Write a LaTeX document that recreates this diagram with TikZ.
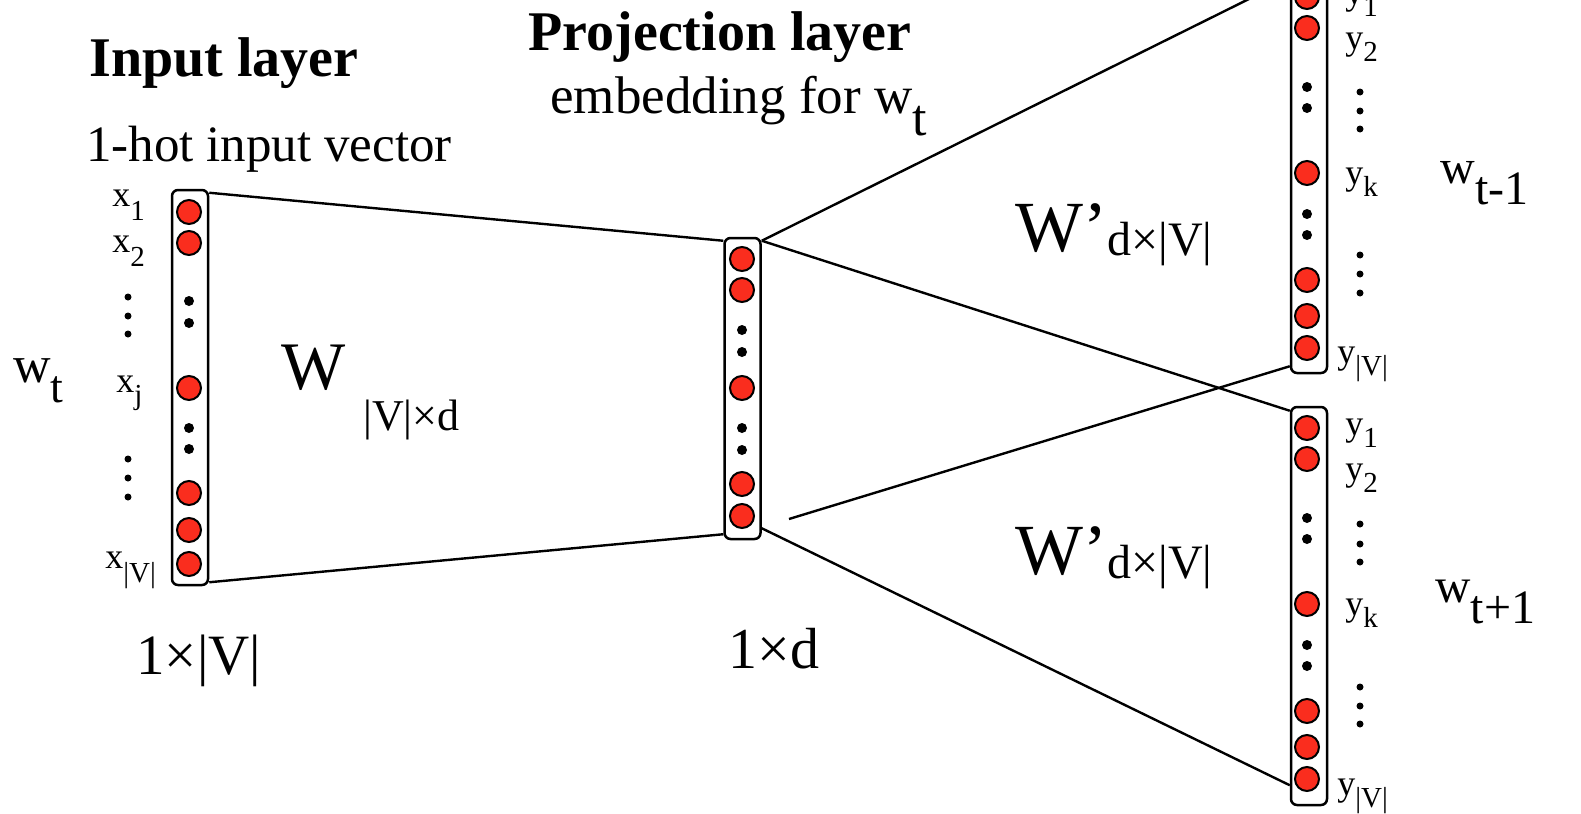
\documentclass[tikz,border=0pt]{standalone}
\usepackage{fontspec}
\setmainfont{Liberation Serif}
\usepackage{xcolor}
\usetikzlibrary{positioning}

\definecolor{neuronred}{RGB}{250,45,30}
% lowered subscript: drop, size, text
\newcommand{\lowsub}[3]{\raisebox{-#1}{\fontsize{#2}{#2}\selectfont #3}}

\begin{document}
\begin{tikzpicture}[
x=0.5pt, y=-0.5pt,
layer/.style={rectangle, draw, rounded corners=3pt, line width=1.25pt, minimum width=18pt, inner sep=0pt},
unit/.style={circle, draw, line width=1pt, fill=neuronred, minimum size=12pt, inner sep=0pt},
blob/.style={circle, fill=black, minimum size=5pt, inner sep=0pt},
vdot/.style={circle, fill=black, minimum size=3.5pt, inner sep=0pt},
conn/.style={line width=1.2pt},
heading/.style={font=\fontsize{28}{30}\selectfont\bfseries, anchor=base, inner sep=0pt},
caption/.style={font=\fontsize{25.5}{28}\selectfont, anchor=base west, inner sep=0pt},
lbl/.style={font=\fontsize{18}{18}\selectfont, anchor=base west, inner sep=0pt}
]
\useasboundingbox (0,0) rectangle (1581,814);
\clip (0,0) rectangle (1581,814);

% layer boxes
\node[layer, minimum height=197.5pt] (inlayer) at (190,387.5) {};
\node[layer, minimum height=150.5pt] (projlayer) at (742.5,388.5) {};
\node[layer, minimum height=198.5pt] (outprev) at (1309,174.5) {};
\node[layer, minimum height=199pt] (outnext) at (1309,606) {};

% input units
\node[unit] (x1) at (189,212) {};
\node[unit] (x2) at (189,243) {};
\node[blob] (xa) at (189,301) {};
\node[blob] (xb) at (189,323) {};
\node[unit] (xj) at (189,388) {};
\node[blob] (xc) at (189,428) {};
\node[blob] (xd) at (189,449) {};
\node[unit] (xm) at (189,493) {};
\node[unit] (xn) at (189,530) {};
\node[unit] (xv) at (189,564) {};

% projection units
\node[unit] (h1) at (742,259) {};
\node[unit] (h2) at (742,290) {};
\node[blob] (ha) at (742,330) {};
\node[blob] (hb) at (742,352) {};
\node[unit] (hj) at (742,388) {};
\node[blob] (hc) at (742,428) {};
\node[blob] (hd) at (742,450) {};
\node[unit] (hm) at (742,484) {};
\node[unit] (hd2) at (742,516) {};

% output units, w_{t-1}
\node[unit] (p1) at (1307,-3) {};
\node[unit] (p2) at (1307,28) {};
\node[blob] (pa) at (1307,87) {};
\node[blob] (pb) at (1307,108) {};
\node[unit] (pk) at (1307,173) {};
\node[blob] (pc) at (1307,214) {};
\node[blob] (pd) at (1307,235) {};
\node[unit] (pm) at (1307,280) {};
\node[unit] (pn) at (1307,316) {};
\node[unit] (pv) at (1307,348) {};

% output units, w_{t+1}
\node[unit] (n1) at (1307,428) {};
\node[unit] (n2) at (1307,459) {};
\node[blob] (na) at (1307,518) {};
\node[blob] (nb) at (1307,539) {};
\node[unit] (nk) at (1307,604) {};
\node[blob] (nc) at (1307,645) {};
\node[blob] (nd) at (1307,666) {};
\node[unit] (nm) at (1307,711) {};
\node[unit] (nn) at (1307,747) {};
\node[unit] (nv) at (1307,779) {};

% connectors
\coordinate (loose) at (789,519);
\draw[conn] ([yshift=-2pt]inlayer.north east) -- ([yshift=-2pt]projlayer.north west);
\draw[conn] ([yshift=2pt]inlayer.south east) -- ([yshift=3pt]projlayer.south west);
\draw[conn] ([yshift=-2pt]projlayer.north east) -- ([yshift=-2pt]outprev.north west);
\draw[conn] ([yshift=-2pt]projlayer.north east) -- ([yshift=-2.5pt]outnext.north west);
\draw[conn] (loose) -- ([yshift=4pt]outprev.south west);
\draw[conn] ([yshift=6pt]projlayer.south east) -- ([yshift=10.5pt]outnext.south west);

% input labels
\node[lbl] (lx1) at (112,206) {x\lowsub{7pt}{14.5}{1}};
\node[lbl] (lx2) at (112,252) {x\lowsub{7pt}{14.5}{2}};
\node[vdot] (lxa) at (128,297) {};
\node[vdot] (lxb) at (128,316) {};
\node[vdot] (lxc) at (128,334) {};
\node[lbl] (lxj) at (116,392) {x\lowsub{6pt}{14.5}{j}};
\node[vdot] (lxd) at (128,459) {};
\node[vdot] (lxe) at (128,478) {};
\node[vdot] (lxf) at (128,497) {};
\node[lbl] (lxv) at (105,568) {x\lowsub{7pt}{14.5}{|V|}};

% output labels, w_{t-1}
\node[lbl] (lp1) at (1345,4) {y\lowsub{6pt}{14.5}{1}};
\node[lbl] (lp2) at (1345,49) {y\lowsub{6pt}{14.5}{2}};
\node[vdot] (lpa) at (1360,92) {};
\node[vdot] (lpb) at (1360,111) {};
\node[vdot] (lpc) at (1360,129) {};
\node[lbl] (lpk) at (1345,184) {y\lowsub{6pt}{14.5}{k}};
\node[vdot] (lpd) at (1360,255) {};
\node[vdot] (lpe) at (1360,274) {};
\node[vdot] (lpf) at (1360,293) {};
\node[lbl] (lpv) at (1337,363) {y\lowsub{6pt}{14.5}{|V|}};

% output labels, w_{t+1}
\node[lbl] (ln1) at (1345,435) {y\lowsub{6pt}{14.5}{1}};
\node[lbl] (ln2) at (1345,480) {y\lowsub{6pt}{14.5}{2}};
\node[vdot] (lna) at (1360,524) {};
\node[vdot] (lnb) at (1360,544) {};
\node[vdot] (lnc) at (1360,562) {};
\node[lbl] (lnk) at (1345,615) {y\lowsub{6pt}{14.5}{k}};
\node[vdot] (lnd) at (1360,687) {};
\node[vdot] (lne) at (1360,706) {};
\node[vdot] (lnf) at (1360,724) {};
\node[lbl] (lnv) at (1337,795) {y\lowsub{6pt}{14.5}{|V|}};

% titles and words
\node[heading] (intitle) at (224,76) {Input layer};
\node[caption, anchor=base] (inhint) at (269,161) {1-hot input vector};
\node[heading] (projtitle) at (720,50) {Projection layer};
\node[caption, font=\fontsize{26.5}{28}\selectfont] (projhint) at (550,113) {embedding for w\lowsub{11pt}{26}{t}};
\node[caption, font=\fontsize{26}{28}\selectfont] (wcur) at (13,382) {w\lowsub{10pt}{23}{t}};
\node[caption, font=\fontsize{24}{26}\selectfont] (wprev) at (1440,183) {w\lowsub{10.5pt}{24}{t-1}};
\node[caption, font=\fontsize{24.5}{26}\selectfont] (wnext) at (1435,602) {w\lowsub{10.5pt}{24}{t+1}};

% weight matrices and sizes
\node[caption, font=\fontsize{34}{36}\selectfont] (wmat) at (281,389) {W};
\node[caption, font=\fontsize{22}{24}\selectfont] (wmatsub) at (363,430) {|V|×d};
\node[caption, font=\fontsize{36}{38}\selectfont] (wprevmat) at (1015,251) {W’\lowsub{2pt}{24}{d×|V|}};
\node[caption, font=\fontsize{36}{38}\selectfont] (wnextmat) at (1015,574) {W’\lowsub{2pt}{24}{d×|V|}};
\node[caption, font=\fontsize{28.5}{30}\selectfont] (insize) at (136,674) {1×|V|};
\node[caption, font=\fontsize{29}{30}\selectfont] (projsize) at (728,668) {1×d};

\end{tikzpicture}
\end{document}
